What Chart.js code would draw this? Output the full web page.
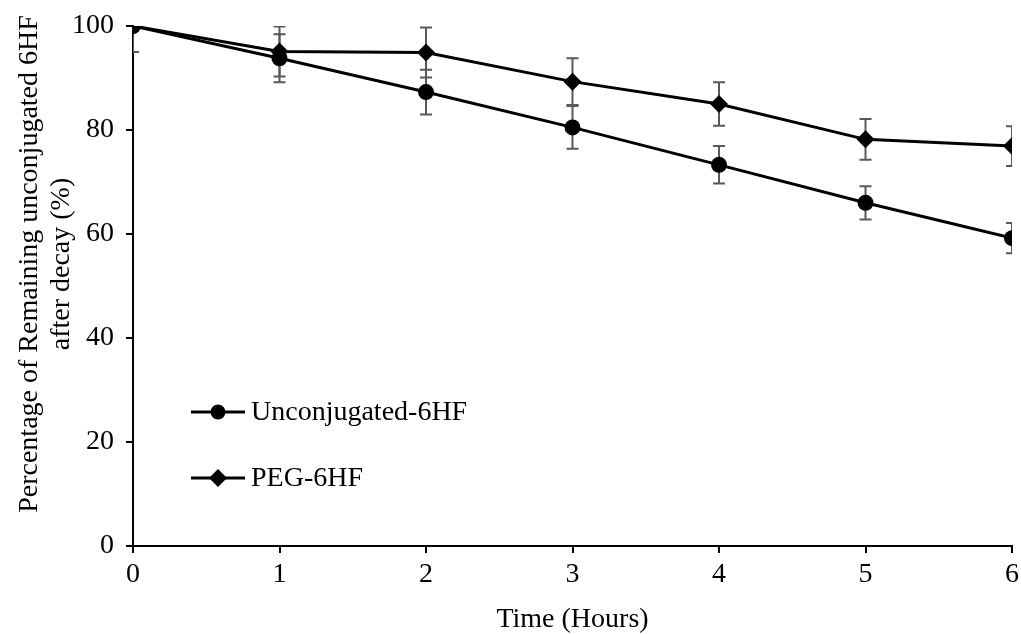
<!DOCTYPE html>
<html>
<head>
<meta charset="utf-8">
<script src="https://cdn.jsdelivr.net/npm/chart.js@4.4.0/dist/chart.umd.min.js"></script>
<style>
  html, body { margin: 0; padding: 0; background: #fff; }
  #wrap { width: 1021px; height: 634px; position: relative; }
</style>
</head>
<body>
<div id="wrap"><canvas id="chart"></canvas></div>
<script>
// =============================================
// Data
// =============================================
const hours           = [0, 1, 2, 3, 4, 5, 6];
const yTicks          = [0, 20, 40, 60, 80, 100];
const unconjugated    = [100, 93.8, 87.3, 80.5, 73.3, 66.0, 59.2];
const unconjugatedErr = [5.0, 4.6, 4.3, 4.1, 3.6, 3.2, 2.9];
const peg             = [100, 95.1, 94.9, 89.3, 85.0, 78.2, 76.9];
const pegErr          = [5.0, 4.8, 4.8, 4.5, 4.2, 3.9, 3.8];
const seriesNames     = ['Unconjugated-6HF', 'PEG-6HF'];
const yTitleLines     = ['Percentage of Remaining unconjugated 6HF', 'after decay (%)'];

const FONT = "'Liberation Serif', 'Times New Roman', serif";
const FONT_SIZE = 28;
const ERR_COLOR = '#595959';

// =============================================
// Error bars (drawn under the markers, clipped to the plot)
// =============================================
const errorBars = {
  id: 'errorBars',
  beforeDatasetsDraw(chart) {
    const { ctx, chartArea, scales: { x, y } } = chart;
    ctx.save();
    ctx.beginPath();
    ctx.rect(chartArea.left, chartArea.top, chartArea.right - chartArea.left, chartArea.bottom - chartArea.top);
    ctx.clip();
    ctx.strokeStyle = ERR_COLOR;
    ctx.lineWidth = 2;
    chart.data.datasets.forEach(ds => {
      ds.data.forEach((p, i) => {
        const e = ds.errors[i];
        const px = x.getPixelForValue(p.x);
        const top = y.getPixelForValue(p.y + e);
        const bot = y.getPixelForValue(p.y - e);
        ctx.beginPath();
        ctx.moveTo(px, top); ctx.lineTo(px, bot);
        ctx.moveTo(px - 6, top); ctx.lineTo(px + 6, top);
        ctx.moveTo(px - 6, bot); ctx.lineTo(px + 6, bot);
        ctx.stroke();
      });
    });
    ctx.restore();
  }
};

// =============================================
// Y axis title, two rotated lines
// =============================================
const yTitle = {
  id: 'yTitle',
  afterDraw(chart) {
    const { ctx } = chart;
    ctx.save();
    ctx.translate(0, 264);
    ctx.rotate(-Math.PI / 2);
    ctx.fillStyle = '#000';
    ctx.font = `${FONT_SIZE}px ${FONT}`;
    ctx.textAlign = 'center';
    ctx.textBaseline = 'middle';
    yTitleLines.forEach((line, i) => ctx.fillText(line, 0, 30 + i * 32));
    ctx.restore();
  }
};

// =============================================
// Legend inside the plot, lower left
// =============================================
const insideLegend = {
  id: 'insideLegend',
  afterDraw(chart) {
    const { ctx, chartArea } = chart;
    const rows = [
      { y: chartArea.top + 386, ds: chart.data.datasets[0], r: 7.5 },
      { y: chartArea.top + 452, ds: chart.data.datasets[1], r: 9 }
    ];
    const x0 = chartArea.left + 58;
    ctx.save();
    rows.forEach(row => {
      ctx.strokeStyle = '#000';
      ctx.lineWidth = 3;
      ctx.beginPath();
      ctx.moveTo(x0, row.y);
      ctx.lineTo(x0 + 54, row.y);
      ctx.stroke();
      ctx.fillStyle = '#000';
      Chart.helpers.drawPoint(ctx, { pointStyle: row.ds.pointStyle, radius: row.r, borderWidth: 0 }, x0 + 27, row.y);
      ctx.font = `${FONT_SIZE}px ${FONT}`;
      ctx.textBaseline = 'middle';
      ctx.fillText(row.ds.label, x0 + 60, row.y + 1);
    });
    ctx.restore();
  }
};

// =============================================
// Chart
// =============================================
const toPoints = vals => hours.map((h, i) => ({ x: h, y: vals[i] }));

const axisGrid = { drawOnChartArea: false, drawTicks: true, tickLength: 7, color: '#000', lineWidth: 2 };

new Chart(document.getElementById('chart'), {
  type: 'line',
  data: {
    datasets: [
      {
        label: seriesNames[0],
        data: toPoints(unconjugated),
        errors: unconjugatedErr,
        borderColor: '#000',
        backgroundColor: '#000',
        borderWidth: 3,
        pointStyle: 'circle',
        pointRadius: 8,
        pointBorderWidth: 0,
        pointBackgroundColor: '#000'
      },
      {
        label: seriesNames[1],
        data: toPoints(peg),
        errors: pegErr,
        borderColor: '#000',
        backgroundColor: '#000',
        borderWidth: 3,
        pointStyle: 'rectRot',
        pointRadius: 9,
        pointBorderWidth: 0,
        pointBackgroundColor: '#000'
      }
    ]
  },
  options: {
    responsive: true,
    maintainAspectRatio: false,
    animation: false,
    layout: { padding: { top: 26, right: 5, left: 0, bottom: 0 } },
    scales: {
      x: {
        type: 'linear',
        min: 0,
        max: 6,
        afterBuildTicks: s => { s.ticks = hours.map(v => ({ value: v })); },
        afterFit: s => { s.height = 88; s.paddingLeft = 0; s.paddingRight = 0; },
        border: { color: '#000', width: 2 },
        grid: axisGrid,
        ticks: { color: '#000', padding: 5, font: { family: FONT, size: FONT_SIZE } },
        title: {
          display: true,
          text: 'Time (Hours)',
          color: '#000',
          font: { family: FONT, size: FONT_SIZE, lineHeight: 1 },
          padding: { top: 0, bottom: 0 }
        }
      },
      y: {
        min: 0,
        max: 100,
        afterBuildTicks: s => { s.ticks = yTicks.map(v => ({ value: v })); },
        afterFit: s => { s.width = 133; s.paddingTop = 0; s.paddingBottom = 0; },
        border: { color: '#000', width: 2 },
        grid: axisGrid,
        ticks: { color: '#000', padding: 12, font: { family: FONT, size: FONT_SIZE } }
      }
    },
    plugins: {
      legend: { display: false },
      tooltip: { enabled: false }
    }
  },
  plugins: [errorBars, yTitle, insideLegend]
});
</script>
</body>
</html>
